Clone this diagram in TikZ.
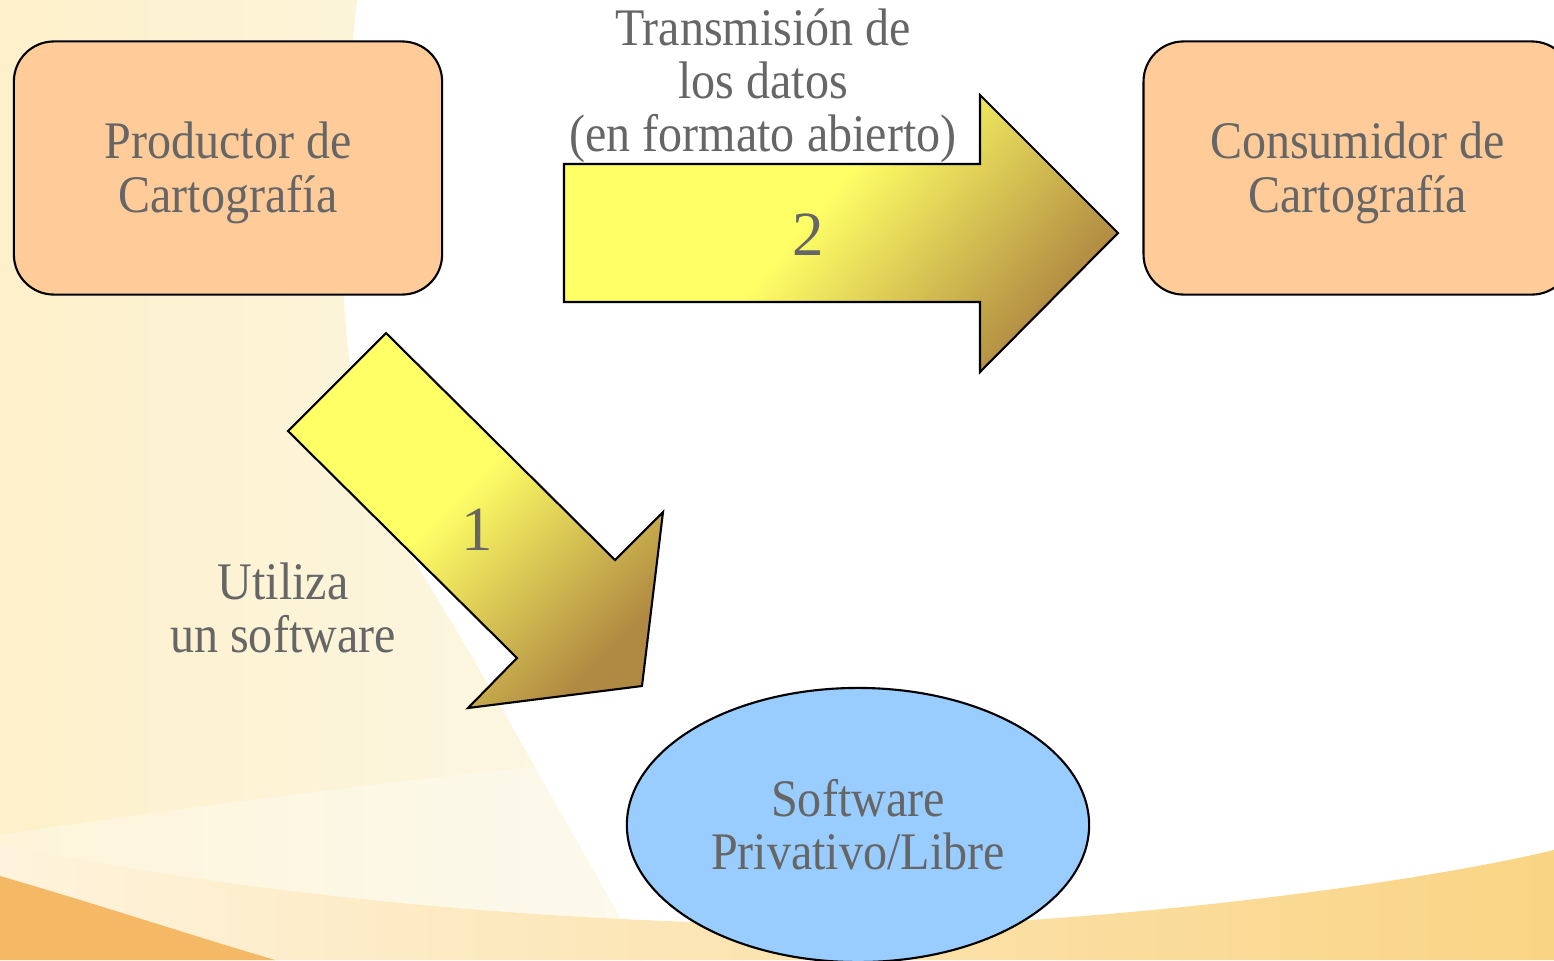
\documentclass[tikz,border=0pt]{standalone}
\usepackage{fontspec}
\setmainfont{Liberation Serif}[FakeStretch=0.91]
\newfontfamily\cifra{Liberation Serif}
\usetikzlibrary{shapes.geometric}
\definecolor{peach}{HTML}{FFCC99}
\definecolor{sky}{HTML}{99CCFF}
\definecolor{txt}{HTML}{666666}
\definecolor{yel}{HTML}{FFFF66}
\definecolor{brn}{HTML}{B08A42}
\definecolor{crema1}{HTML}{FDF0CA}
\definecolor{crema2}{HTML}{FCF8E6}
\definecolor{banda1}{HTML}{FEF3DC}
\definecolor{banda2}{HTML}{F9D484}
\definecolor{naranja}{HTML}{F5B966}
\pgfdeclarehorizontalshading[yel,brn]{gold}{100bp}{color(0bp)=(yel); color(46bp)=(yel); color(75bp)=(brn); color(100bp)=(brn)}
\newcommand{\alto}{\rule{0pt}{0.88em}}
\tikzset{node distance=11.29cm, auto, x=0.01cm, y=-0.01cm,
  every node/.style={text=txt, font=\fontsize{15.02pt}{15.1pt}\selectfont},
  caja/.style={draw, fill=peach, rounded corners=0.4cm, minimum width=4.28cm, minimum height=2.53cm, align=center, line width=0.6pt},
  elipse/.style={draw, fill=sky, ellipse, minimum width=4.62cm, minimum height=2.74cm, align=center, inner sep=0pt, line width=0.6pt},
  numero/.style={font=\cifra\fontsize{17.9pt}{18pt}\selectfont},
  flecha/.style={shading=gold, line width=0.6pt}}

\begin{document}
\begin{tikzpicture}
  \useasboundingbox (0,0) rectangle (1554,960);
  \clip (0,0) rectangle (1554,960);
  % fondo
  \fill[white] (0,0) rectangle (1554,960);
  \shade[left color=crema1, right color=crema2] (0,0) -- (357,0) .. controls (325,300) and (345,450) .. (420,570) .. controls (500,700) and (580,850) .. (645,960) -- (0,960) -- cycle;
  \begin{scope}
    \clip (0,0) -- (357,0) .. controls (325,300) and (345,450) .. (420,570) .. controls (500,700) and (580,850) .. (645,960) -- (0,960) -- cycle;
    \fill[white, opacity=0.3] (0,835) .. controls (200,805) and (400,780) .. (600,760) -- (700,960) -- (0,960) -- cycle;
  \end{scope}
  \shade[left color=banda1, right color=banda2] (0,845) .. controls (350,915) and (750,935) .. (1030,920) .. controls (1250,905) and (1450,875) .. (1554,850) -- (1554,960) -- (0,960) -- cycle;
  \fill[naranja] (0,876) .. controls (100,905) and (190,935) .. (275,960) -- (0,960) -- cycle;

  \node[caja] (P) at (228,168) {\alto Productor de\\Cartografía};
  \node[caja] (C) [right of=P] {\alto Consumidor de\\Cartografía};
  \node[elipse] (S) at (858,825) {Software\\Privativo/Libre};

  % flechas
  \shadedraw[flecha, shading angle=-40] (564,164) -- (980,164) -- (980,95) -- (1118,233) -- (980,372) -- (980,302) -- (564,302) -- cycle;
  \shadedraw[flecha, shading angle=-45] (386,333) -- (615,560) -- (663,512) -- (642,686) -- (468,708) -- (517,658) -- (288,431) -- cycle;

  \node[numero] (n2) at (808,235) {2};
  \node[numero] (n1) at (477,530) {1};
  \node (T) at (763,86) [align=center] {Transmisión de\\los datos\\(en formato abierto)};
  \node (U) at (283,608) [align=center] {Utiliza\\un software};
\end{tikzpicture}
\end{document}
